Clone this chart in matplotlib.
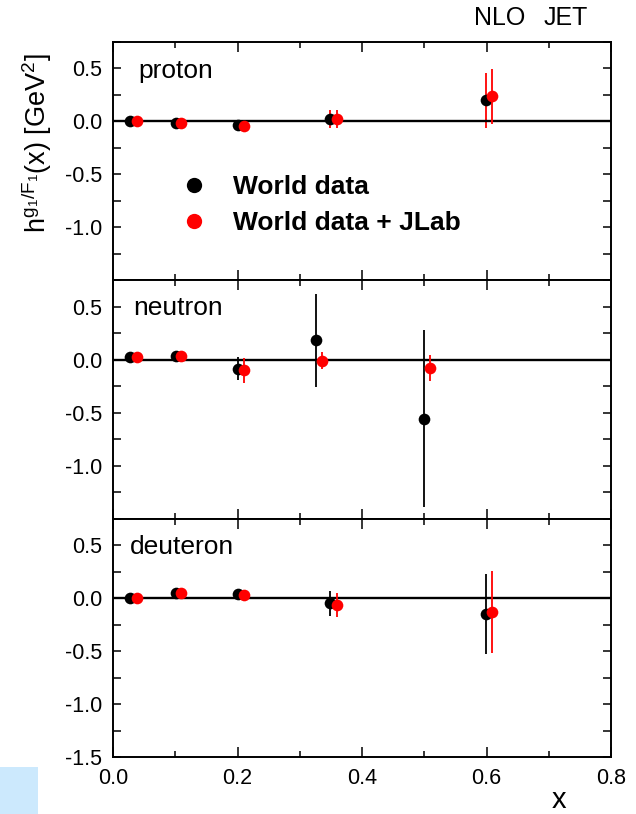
import matplotlib
matplotlib.use("Agg")
import matplotlib.pyplot as plt
from matplotlib.ticker import MultipleLocator, FormatStrFormatter
from matplotlib.lines import Line2D
from matplotlib.patches import Rectangle

plt.rcParams['font.family'] = ['Liberation Sans', 'DejaVu Sans']
plt.rcParams['mathtext.fontset'] = 'custom'
plt.rcParams['mathtext.rm'] = 'Liberation Sans'
plt.rcParams['mathtext.it'] = 'Liberation Sans'
plt.rcParams['mathtext.bf'] = 'Liberation Sans:bold'
plt.rcParams['axes.unicode_minus'] = False

# ---- data: h^{g1/F1}(x) extracted from world data, with and without JLab ----
panels = ["proton", "neutron", "deuteron"]

# proton
p_x_world = [0.028, 0.101, 0.200, 0.349, 0.599]
p_y_world = [0.000, -0.010, -0.038, 0.022, 0.200]
p_e_world = [0.020, 0.020, 0.050, 0.088, 0.258]
p_x_jlab = [0.038, 0.110, 0.210, 0.360, 0.609]
p_y_jlab = [0.000, -0.010, -0.047, 0.022, 0.237]
p_e_jlab = [0.015, 0.015, 0.030, 0.088, 0.257]
p_ecol_world = ["black", "black", "black", "red", "red"]

# neutron
n_x_world = [0.028, 0.101, 0.200, 0.326, 0.500]
n_y_world = [0.025, 0.040, -0.085, 0.186, -0.555]
n_e_world = [0.020, 0.020, 0.110, 0.439, 0.832]
n_x_jlab = [0.038, 0.110, 0.210, 0.335, 0.510]
n_y_jlab = [0.030, 0.040, -0.101, -0.007, -0.079]
n_e_jlab = [0.015, 0.015, 0.120, 0.080, 0.120]
n_ecol_world = ["black"] * 5

# deuteron
d_x_world = [0.028, 0.101, 0.200, 0.349, 0.599]
d_y_world = [0.000, 0.050, 0.038, -0.049, -0.151]
d_e_world = [0.015, 0.020, 0.045, 0.118, 0.379]
d_x_jlab = [0.038, 0.110, 0.210, 0.360, 0.609]
d_y_jlab = [0.000, 0.050, 0.025, -0.065, -0.128]
d_e_jlab = [0.010, 0.015, 0.050, 0.112, 0.386]
d_ecol_world = ["black"] * 5

series = [
    (p_x_world, p_y_world, p_e_world, p_ecol_world, p_x_jlab, p_y_jlab, p_e_jlab),
    (n_x_world, n_y_world, n_e_world, n_ecol_world, n_x_jlab, n_y_jlab, n_e_jlab),
    (d_x_world, d_y_world, d_e_world, d_ecol_world, d_x_jlab, d_y_jlab, d_e_jlab),
]
label_pos = [(0.050, 0.847), (0.040, 0.853), (0.034, 0.853)]

y_ticks_upper = [-1.0, -0.5, 0.0, 0.5]
y_ticks_lower = [-1.5, -1.0, -0.5, 0.0, 0.5]

W, H = 636, 814
fig = plt.figure(figsize=(W / 100, H / 100), dpi=100)

left, right = 113 / W, 611 / W
top_px, bot_px = 42, 757
ph = (bot_px - top_px) / 3

axes = []
for i in range(3):
    y0 = 1 - (top_px + (i + 1) * ph) / H
    ax = fig.add_axes([left, y0, right - left, ph / H])
    axes.append(ax)

for i, ax in enumerate(axes):
    xw, yw, ew, cw, xj, yj, ej = series[i]
    ax.axhline(0.0, color="black", lw=1.7, zorder=2.5)
    ax.vlines(xw, [a - b for a, b in zip(yw, ew)], [a + b for a, b in zip(yw, ew)],
              colors=cw, lw=1.3, zorder=2)
    ax.plot(xw, yw, "o", color="black", ms=8.4, mec="none", zorder=2.2)
    ax.vlines(xj, [a - b for a, b in zip(yj, ej)], [a + b for a, b in zip(yj, ej)],
              colors="red", lw=1.3, zorder=3)
    ax.plot(xj, yj, "o", color="red", ms=8.4, mec="none", zorder=3.2)

    ax.set_xlim(0.0, 0.8)
    ax.set_ylim(-1.5, 0.75)
    ax.xaxis.set_major_locator(MultipleLocator(0.2))
    ax.xaxis.set_minor_locator(MultipleLocator(0.1))
    ax.set_yticks(y_ticks_lower if i == 2 else y_ticks_upper)
    ax.yaxis.set_minor_locator(MultipleLocator(0.25))
    ax.yaxis.set_major_formatter(FormatStrFormatter("%.1f"))
    ax.xaxis.set_major_formatter(FormatStrFormatter("%.1f"))
    ax.tick_params(which="both", direction="in", top=True, right=True,
                   width=1.1, labelsize=15.5, pad=8)
    ax.tick_params(axis="y", which="both", length=6)
    ax.tick_params(axis="x", which="major", length=7)
    ax.tick_params(axis="x", which="minor", length=4)
    if i < 2:
        ax.tick_params(axis="x", labelbottom=False)
    for s in ax.spines.values():
        s.set_linewidth(1.4)
    ax.text(label_pos[i][0], label_pos[i][1], panels[i], transform=ax.transAxes,
            fontsize=19, ha="left", va="baseline")

# legend in the proton panel
handles = [
    Line2D([], [], ls="none", marker="o", color="black", mec="none", ms=11),
    Line2D([], [], ls="none", marker="o", color="red", mec="none", ms=11),
]
axes[0].legend(handles, ["World data", "World data + JLab"], loc="upper left",
               bbox_to_anchor=(0.1365, 0.44), frameon=False,
               prop={"weight": "bold", "size": 19}, handlelength=1.0,
               handletextpad=0.98, labelspacing=0.45, borderpad=0,
               borderaxespad=0)

# axis titles and annotations
fig.text(37 / W, 1 - 143 / H, r"h$^{\mathrm{g_1/F_1}}$(x) [GeV$^2$]",
         rotation=90, ha="center", va="center", fontsize=19.5)
fig.text(559 / W, 1 - 800 / H, "x", ha="center", va="center", fontsize=21)
fig.text(500 / W, 1 - 18 / H, "NLO", ha="center", va="center", fontsize=18)
fig.text(566 / W, 1 - 18 / H, "JET", ha="center", va="center", fontsize=18)

fig.patches.append(Rectangle((0, 0), 38 / W, (814 - 767) / H,
                             transform=fig.transFigure, facecolor="#cce9fd",
                             edgecolor="none"))

fig.savefig("out.png", dpi=100)
